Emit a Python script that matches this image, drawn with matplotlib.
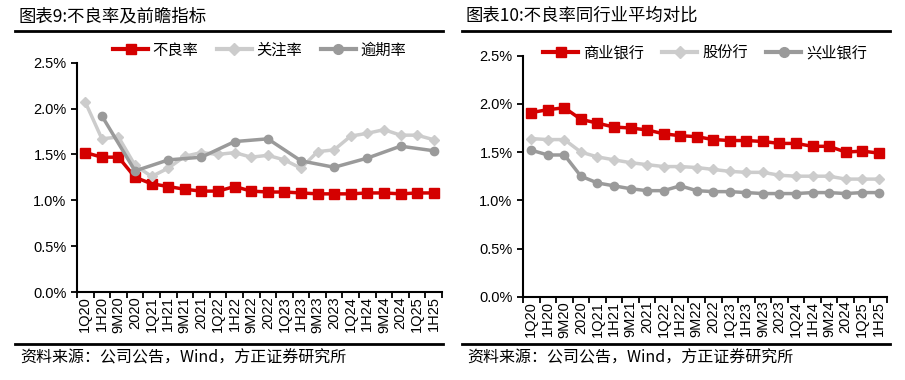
import numpy as np
import matplotlib
matplotlib.use('Agg')
import matplotlib.pyplot as plt
from matplotlib.lines import Line2D

plt.rcParams['font.family'] = ['Noto Sans CJK SC', 'DejaVu Sans']

# Data
quarters = ['1Q20', '1H20', '9M20', '2020', '1Q21', '1H21', '9M21', '2021',
            '1Q22', '1H22', '9M22', '2022', '1Q23', '1H23', '9M23', '2023',
            '1Q24', '1H24', '9M24', '2024', '1Q25', '1H25']

npl_ratio = [1.52, 1.47, 1.47, 1.25, 1.18, 1.15, 1.12, 1.10, 1.10, 1.15, 1.10,
             1.09, 1.09, 1.08, 1.07, 1.07, 1.07, 1.08, 1.08, 1.07, 1.08, 1.08]
special_mention = [2.07, 1.67, 1.69, 1.38, 1.26, 1.35, 1.48, 1.52, 1.50, 1.52, 1.47,
                   1.49, 1.44, 1.35, 1.53, 1.55, 1.70, 1.73, 1.77, 1.71, 1.71, 1.66]
# overdue ratio only reported semi-annually
overdue_ratio = [None, 1.92, None, 1.32, None, 1.44, None, 1.47, None, 1.64, None,
                 1.67, None, 1.43, None, 1.36, None, 1.46, None, 1.59, None, 1.54]

commercial_banks = [1.91, 1.94, 1.96, 1.84, 1.80, 1.76, 1.75, 1.73, 1.69, 1.67, 1.66,
                    1.63, 1.62, 1.62, 1.61, 1.59, 1.59, 1.56, 1.56, 1.50, 1.51, 1.49]
joint_stock = [1.64, 1.63, 1.63, 1.50, 1.45, 1.42, 1.39, 1.37, 1.35, 1.35, 1.34,
               1.32, 1.30, 1.29, 1.29, 1.26, 1.25, 1.25, 1.25, 1.22, 1.22, 1.22]
cib = npl_ratio

yticks = [0.0, 0.5, 1.0, 1.5, 2.0, 2.5]

RED = '#D40000'
LIGHT = '#CCCCCC'
DARK = '#9A9A9A'

W, H = 905, 380
fig = plt.figure(figsize=(W / 100, H / 100), dpi=100)


def px(x0, y0, x1, y1):
    return [x0 / W, 1 - y1 / H, (x1 - x0) / W, (y1 - y0) / H]


def style_axes(ax):
    x = np.arange(len(quarters))
    ax.set_xlim(-0.5, len(quarters) - 0.5)
    ax.set_ylim(0, 2.5)
    ax.set_yticks(yticks)
    ax.set_yticklabels([f'{v:.1f}%' for v in yticks], fontsize=10.5, family='Liberation Sans')
    ax.set_xticks(x)
    ax.set_xticklabels(quarters, rotation=90, fontsize=10.5, family='Liberation Sans')
    ax.tick_params(axis='x', which='major', length=0, pad=3)
    ax.set_xticks(np.arange(-0.5, len(quarters), 1), minor=True)
    ax.tick_params(axis='x', which='minor', length=4, width=1.3, direction='out')
    ax.tick_params(axis='y', length=4, width=1.3, direction='out')
    for s in ['top', 'right']:
        ax.spines[s].set_visible(False)
    for s in ['left', 'bottom']:
        ax.spines[s].set_linewidth(1.5)


def draw(ax, series, labels, legend_y):
    x = np.arange(len(quarters))
    styles = [(RED, 's', 6.5), (LIGHT, 'D', 5), (DARK, 'o', 6)]
    handles = []
    for vals, lab, (c, m, ms) in zip(series, labels, styles):
        xs = [xi for xi, v in zip(x, vals) if v is not None]
        ys = [v for v in vals if v is not None]
        ax.plot(xs, ys, color=c, marker=m, markersize=ms, linewidth=2.5, zorder=3)
        handles.append(Line2D([], [], color=c, marker=m, markersize=ms + 1, linewidth=3))
    ax.legend(handles, labels, loc='center', bbox_to_anchor=(0.5, legend_y), ncol=3,
              frameon=False, fontsize=11, handlelength=2.3, columnspacing=1.2,
              handletextpad=0.3)
    style_axes(ax)


ax1 = fig.add_axes(px(77, 62.7, 442, 292))
draw(ax1, [npl_ratio, special_mention, overdue_ratio], ['不良率', '关注率', '逾期率'], 1.055)

ax2 = fig.add_axes(px(523, 55.7, 887, 296.7))
draw(ax2, [commercial_banks, joint_stock, cib], ['商业银行', '股份行', '兴业银行'], 1.01)

# titles, rules and source notes
for x0, x1, title in [(15, 443, '图表9:不良率及前瞻指标'), (462, 890, '图表10:不良率同行业平均对比')]:
    fig.text((x0 + 3) / W, 1 - 16 / H, title, fontsize=12.5, va='center', ha='left')
    fig.add_artist(Line2D([x0 / W, x1 / W], [1 - 31 / H] * 2, color='black', linewidth=2))
    fig.add_artist(Line2D([x0 / W, x1 / W], [1 - 344 / H] * 2, color='black', linewidth=2))
    fig.text((x0 + 5) / W, 1 - 358 / H, '资料来源：公司公告，Wind，方正证券研究所',
             fontsize=11.5, style='italic', va='center', ha='left')

fig.savefig('out.png', dpi=100)
